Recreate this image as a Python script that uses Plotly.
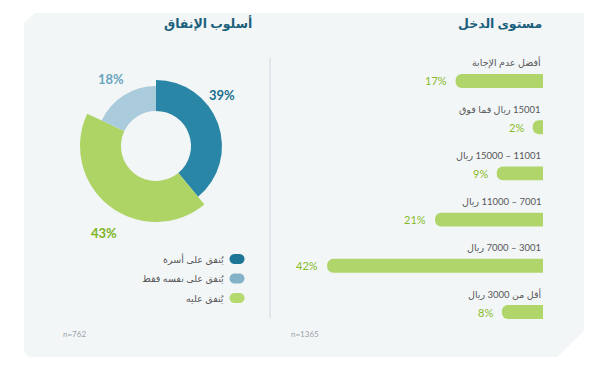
import plotly.graph_objects as go

W, H = 607, 368

# ---------------- data ----------------
income_categories = ["أفضل عدم الإجابة", "15001 ريال فما فوق", "11001 – 15000 ريال",
                     "7001 – 11000 ريال", "3001 – 7000 ريال", "أقل من 3000 ريال"]
income_values = [17, 2, 9, 21, 42, 8]
income_n = "n=1365"
income_title = "مستوى الدخل"

spend_labels = ["يُنفق على أسرة", "يُنفق على نفسه فقط", "يُنفق عليه"]
spend_values = [39, 18, 43]
spend_n = "n=762"
spend_title = "أسلوب الإنفاق"

# ---------------- style ----------------
spend_colors = ["#2a86a6", "#a9cbdb", "#aed466"]
spend_legend_colors = ["#1f7595", "#84b3c8", "#b4d96f"]
spend_label_colors = ["#1b6e8e", "#6aa5bf", "#7cb51c"]
slice_order = [0, 2, 1]          # clockwise from 12 o'clock
slice_outer = {0: 66, 1: 60, 2: 76}
hole_r = 35
bar_color = "#afd56b"
pct_color = "#88bb28"
title_color = "#1c5f7c"
label_color = "#575757"
FONT = "Lato, 'DejaVu Sans', sans-serif"


def px(x):
    return x / W


def py(y):
    return 1 - y / H


def rtl(s):
    return "\u202b" + s + "\u202c"


fig = go.Figure()

# ---------- horizontal bars ----------
fig.add_trace(go.Bar(
    x=income_values, y=income_categories, orientation="h",
    marker=dict(color=bar_color, cornerradius=7, line=dict(width=0)),
    width=0.3, xaxis="x", yaxis="y", showlegend=False, hoverinfo="x+y",
))

# ---------- donut (barpolar) ----------
thetas, widths, rs, cols = [], [], [], []
start = 0.0
for i in slice_order:
    w = spend_values[i] * 3.6
    thetas.append(start + w / 2)
    widths.append(w)
    rs.append(slice_outer[i] - hole_r)
    cols.append(spend_colors[i])
    start += w
fig.add_trace(go.Barpolar(
    theta=thetas, width=widths, r=rs, base=hole_r,
    marker=dict(color=cols, line=dict(width=0)),
    showlegend=False, hoverinfo="skip", subplot="polar",
))

annotations = []
shapes = []

# background panel with chamfered corners
pts = [(24, 23), (35, 13), (584, 13), (584, 331), (557, 357), (29, 357), (24, 352)]
path = "M " + " L ".join(f"{px(x):.5f},{py(y):.5f}" for x, y in pts) + " Z"
shapes.append(dict(type="path", xref="paper", yref="paper", path=path,
                   fillcolor="#f2f6f7", line=dict(width=0), layer="below"))
# divider
shapes.append(dict(type="line", xref="paper", yref="paper", x0=px(270), x1=px(270),
                   y0=py(58), y1=py(318), line=dict(color="#d3e0e7", width=1.2)))

# bar labels
for cat, v in zip(income_categories, income_values):
    annotations.append(dict(x=0, y=cat, xref="x", yref="y", text=rtl(cat),
                            xanchor="right", yanchor="middle", yshift=18, showarrow=False,
                            font=dict(family=FONT, size=9.5, color=label_color)))
    annotations.append(dict(x=v, y=cat, xref="x", yref="y", text=f"{v}%",
                            xanchor="right", yanchor="middle", xshift=-7, showarrow=False,
                            font=dict(family=FONT, size=11, color=pct_color)))

# titles
annotations.append(dict(x=px(544), y=py(23), xref="paper", yref="paper", text=f"<b>{rtl(income_title)}</b>",
                        xanchor="right", yanchor="middle", showarrow=False,
                        font=dict(family=FONT, size=12.5, color=title_color)))
annotations.append(dict(x=px(254), y=py(23), xref="paper", yref="paper", text=f"<b>{rtl(spend_title)}</b>",
                        xanchor="right", yanchor="middle", showarrow=False,
                        font=dict(family=FONT, size=12.5, color=title_color)))

# n labels
annotations.append(dict(x=px(61), y=py(334), xref="paper", yref="paper", text=spend_n,
                        xanchor="left", yanchor="middle", showarrow=False,
                        font=dict(family=FONT, size=8, color="#9aa3a8")))
annotations.append(dict(x=px(289), y=py(334), xref="paper", yref="paper", text=income_n,
                        xanchor="left", yanchor="middle", showarrow=False,
                        font=dict(family=FONT, size=8, color="#9aa3a8")))

# donut percentage labels
donut_label_pos = {0: (222, 95), 1: (111, 79), 2: (104, 233)}
for i, v in enumerate(spend_values):
    x, y = donut_label_pos[i]
    annotations.append(dict(x=px(x), y=py(y), xref="paper", yref="paper", text=f"<b>{v}%</b>",
                            xanchor="center", yanchor="middle", showarrow=False,
                            font=dict(family=FONT, size=13, color=spend_label_colors[i])))

# legend
pill = ("M -2.5,-5 L 2.5,-5 C 5.26,-5 7.5,-2.76 7.5,0 C 7.5,2.76 5.26,5 2.5,5 "
        "L -2.5,5 C -5.26,5 -7.5,2.76 -7.5,0 C -7.5,-2.76 -5.26,-5 -2.5,-5 Z")
leg_y = [259, 278.5, 298]
for i, lab in enumerate(spend_labels):
    shapes.append(dict(type="path", xref="paper", yref="paper", xsizemode="pixel", ysizemode="pixel",
                       xanchor=px(237), yanchor=py(leg_y[i]), path=pill,
                       fillcolor=spend_legend_colors[i], line=dict(width=0)))
    annotations.append(dict(x=px(226), y=py(leg_y[i]), xref="paper", yref="paper", text=rtl(lab),
                            xanchor="right", yanchor="middle", showarrow=False,
                            font=dict(family=FONT, size=9.5, color=label_color)))

# axes geometry
unit = 5.14
x_right, x_left = 543, 290
row0, rowN, n = 81, 312, len(income_categories)
step = (rowN - row0) / (n - 1)
top_px, bot_px = row0 - step / 2, rowN + step / 2

fig.update_layout(
    width=W, height=H, margin=dict(l=0, r=0, t=0, b=0),
    paper_bgcolor="white", plot_bgcolor="rgba(0,0,0,0)",
    xaxis=dict(domain=[px(x_left), px(x_right)], range=[(x_right - x_left) / unit, 0],
               visible=False, fixedrange=True),
    yaxis=dict(domain=[py(bot_px), py(top_px)], range=[n - 0.5, -0.5], visible=False,
               type="category", categoryorder="array", categoryarray=income_categories),
    polar=dict(domain=dict(x=[px(76), px(236)], y=[py(226), py(66)]),
               bgcolor="rgba(0,0,0,0)",
               angularaxis=dict(rotation=90, direction="clockwise", visible=False),
               radialaxis=dict(range=[0, 80], visible=False)),
    annotations=annotations, shapes=shapes, bargap=0.7,
)

fig.write_html("out.html", config={"displayModeBar": False},
               post_script="document.body.style.margin='0';document.body.style.padding='0';document.body.style.overflow='hidden';")
